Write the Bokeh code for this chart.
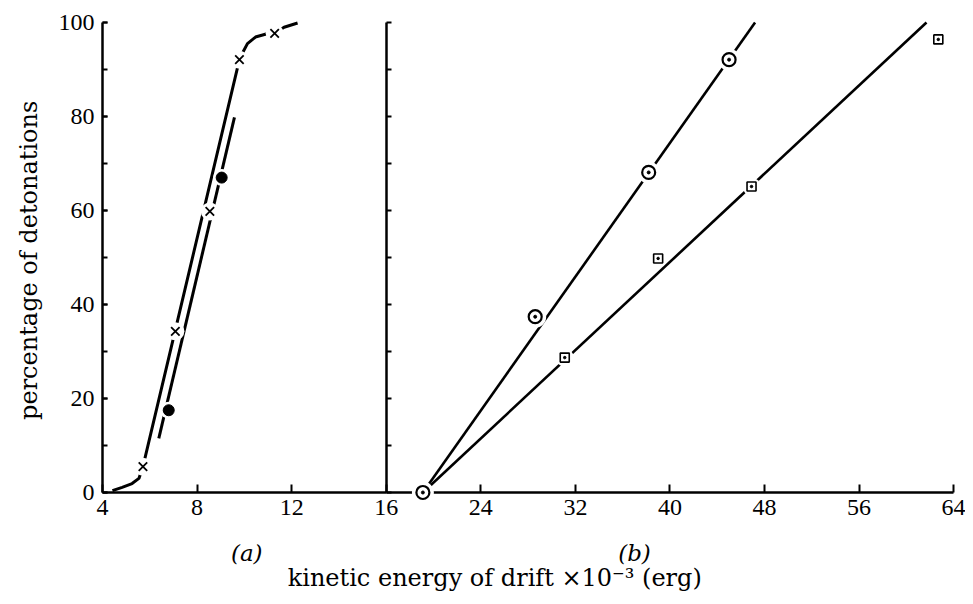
import math
from bokeh.plotting import figure
from bokeh.models import Range1d, LinearAxis, FixedTicker, Label
from bokeh.embed import file_html
from bokeh.resources import INLINE

# ---------------- data ----------------
# panel (a): kinetic energy (x10^-3 erg) vs percentage of detonations
a_cross_x = [5.71, 7.08, 8.54, 9.79, 11.28]
a_cross_y = [5.5, 34.3, 59.8, 92.1, 97.7]
a_dot_x = [6.80, 9.04]
a_dot_y = [17.5, 67.0]
# curve drawn through the crosses
a_curve_x = [4.42, 4.83, 5.25, 5.54, 5.71, 9.79, 9.92, 10.13, 10.47, 10.96, 11.28, 11.68, 12.25]
a_curve_y = [0.4, 1.1, 1.9, 3.0, 5.5, 92.1, 93.5, 95.5, 96.9, 97.6, 97.7, 99.0, 99.9]
# straight line drawn through the dots
a_dotline_x = [6.38, 9.58]
a_dotline_y = [11.5, 79.8]

# panel (b)
b_circ_x = [19.1, 28.6, 38.2, 45.0]
b_circ_y = [0.0, 37.4, 68.1, 92.1]
b_sq_x = [31.1, 39.0, 46.9, 62.7]
b_sq_y = [28.7, 49.8, 65.1, 96.4]
b_circline_x = [19.1, 47.2]
b_circline_y = [0.0, 100.0]
b_sqline_x = [19.1, 61.7]
b_sqline_y = [0.0, 100.0]

# axes
xticks_a = [4, 8, 12, 16]
xticks_b = [24, 32, 40, 48, 56, 64]
y_ticks = [0, 20, 40, 60, 80, 100]
y_minor_ticks = [0, 10, 20, 30, 40, 50, 60, 70, 80, 90, 100]
x_label = "kinetic energy of drift  \u00d710\u207b\u00b3 (erg)"
y_label = "percentage of detonations"

TICK_FONT = "Liberation Serif"
LABEL_FONT = "DejaVu Serif"

# ---------------- figure ----------------
# panel (a) is drawn at twice the scale of panel (b): range "a" shares the frame.
# The frame fills the whole canvas; the axes are drawn at fixed locations.
p = figure(width=965, height=596,
           x_range=Range1d(-16.63, 65.0), y_range=Range1d(-22.13, 104.68),
           x_axis_type=None, y_axis_type=None,
           output_backend="svg", toolbar_location=None,
           min_border_left=0, min_border_right=0,
           min_border_top=0, min_border_bottom=0)
p.extra_x_ranges = {"a": Range1d(-0.315, 40.5)}
p.outline_line_color = None
p.background_fill_color = "white"
p.border_fill_color = "white"


def style_axis(ax, tick_len):
    ax.axis_line_width = 2.5
    ax.axis_line_color = "black"
    ax.major_tick_in = tick_len
    ax.major_tick_out = 0
    ax.minor_tick_in = tick_len
    ax.minor_tick_out = 0
    ax.major_tick_line_width = 2
    ax.minor_tick_line_width = 2
    ax.major_tick_line_color = "black"
    ax.minor_tick_line_color = "black"
    ax.major_label_text_font = TICK_FONT
    ax.major_label_text_font_size = "24px"
    ax.major_label_text_color = "black"
    ax.major_label_standoff = 8


ax_a = LinearAxis(x_range_name="a", fixed_location=0, bounds=(4, 16),
                  ticker=FixedTicker(ticks=xticks_a, minor_ticks=[]))
style_axis(ax_a, 8)
p.add_layout(ax_a, "below")

ax_b = LinearAxis(fixed_location=0, bounds=(16, 64),
                  ticker=FixedTicker(ticks=xticks_b, minor_ticks=[]))
style_axis(ax_b, 8)
p.add_layout(ax_b, "below")

ay = LinearAxis(x_range_name="a", fixed_location=4, bounds=(0, 100),
                ticker=FixedTicker(ticks=y_ticks, minor_ticks=y_minor_ticks))
style_axis(ay, 5)
p.add_layout(ay, "left")

# divider axis between the panels at x = 16 (ticks only, no labels)
ay2 = LinearAxis(fixed_location=16, bounds=(0, 100),
                 ticker=FixedTicker(ticks=[], minor_ticks=y_minor_ticks))
style_axis(ay2, 5)
p.add_layout(ay2, "left")

# ---------------- lines ----------------
p.line(a_curve_x, a_curve_y, x_range_name="a", line_width=3, line_color="black")
p.line(a_dotline_x, a_dotline_y, x_range_name="a", line_width=3, line_color="black")
p.line(b_circline_x, b_circline_y, line_width=2.6, line_color="black")
p.line(b_sqline_x, b_sqline_y, line_width=2.6, line_color="black")

# ---------------- white gaps behind markers ----------------
p.scatter(a_cross_x, a_cross_y, x_range_name="a", size=18, fill_color="white",
          line_color=None, level="overlay")
p.scatter(a_dot_x, a_dot_y, x_range_name="a", size=17, fill_color="white",
          line_color=None, level="overlay")
p.scatter(b_circ_x, b_circ_y, size=22, fill_color="white", line_color=None, level="overlay")
p.scatter(b_sq_x, b_sq_y, size=18, fill_color="white", line_color=None, level="overlay")

# ---------------- markers ----------------
p.scatter(a_cross_x, a_cross_y, x_range_name="a", marker="x", size=12,
          line_width=1.8, line_color="black", level="overlay")
p.scatter(a_dot_x, a_dot_y, x_range_name="a", marker="circle", size=11,
          fill_color="black", line_color="black", level="overlay")
p.scatter(b_circ_x, b_circ_y, marker="circle", size=13, fill_color="white",
          line_color="black", line_width=2.2, level="overlay")
p.scatter(b_circ_x, b_circ_y, marker="circle", size=3, fill_color="black",
          line_color="black", level="overlay")
p.scatter(b_sq_x, b_sq_y, marker="square", size=9, fill_color="white",
          line_color="black", line_width=1.6, level="overlay")
p.scatter(b_sq_x, b_sq_y, marker="circle", size=2.5, fill_color="black",
          line_color="black", level="overlay")

# ---------------- texts ----------------
p.add_layout(Label(x=0.9, y=49.4, x_range_name="a", text=y_label, angle=math.pi / 2,
                   text_align="center", text_baseline="middle", text_font=LABEL_FONT,
                   text_font_size="24px", text_color="black"))
p.add_layout(Label(x=25.5, y=-18.3, text=x_label, text_align="center",
                   text_baseline="alphabetic", text_font=LABEL_FONT,
                   text_font_size="24px", text_color="black"))
p.add_layout(Label(x=10.1, y=-12.9, x_range_name="a", text="(a)", text_align="center",
                   text_baseline="alphabetic", text_font=LABEL_FONT,
                   text_font_style="italic", text_font_size="23px", text_color="black"))
p.add_layout(Label(x=37.0, y=-12.9, text="(b)", text_align="center",
                   text_baseline="alphabetic", text_font=LABEL_FONT,
                   text_font_style="italic", text_font_size="23px", text_color="black"))

open("out.html", "w").write(file_html(p, INLINE))
